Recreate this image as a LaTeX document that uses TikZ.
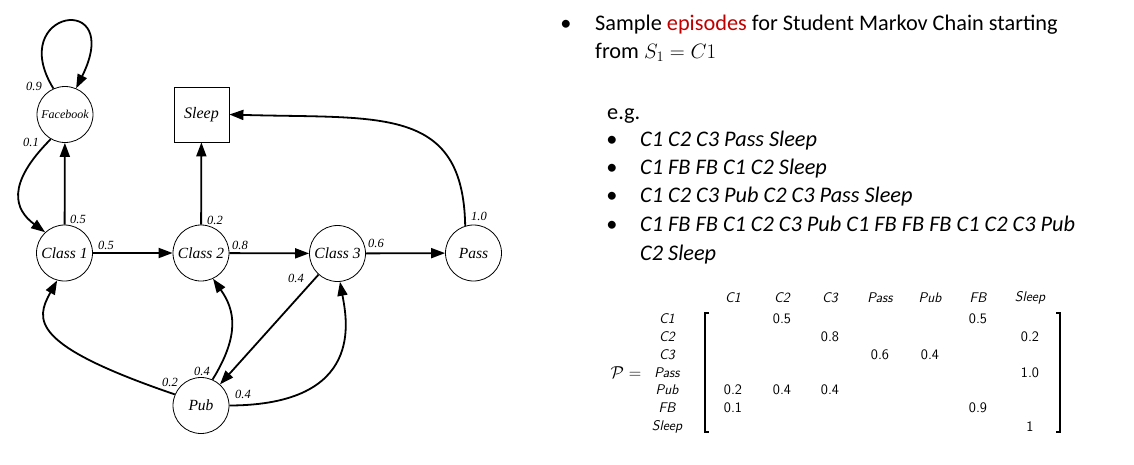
\documentclass[tikz,border=0pt]{standalone}
\usepackage{fontspec}
\setmainfont{Liberation Serif}
\newfontfamily\calibrifont{Carlito}
\usetikzlibrary{arrows.meta}
\definecolor{epired}{RGB}{192,0,0}
\begin{document}
\begin{tikzpicture}[x=1pt,y=-1pt,
  state/.style={circle, draw, line width=0.8pt, minimum size=56pt, inner sep=0pt, font=\fontsize{15.5}{16}\selectfont\itshape},
  sqstate/.style={rectangle, draw, line width=0.8pt, minimum size=55pt, inner sep=0pt, font=\fontsize{16}{17}\selectfont\itshape},
  arr/.style={line width=1.8pt, -{Triangle[length=14pt,width=10pt]}},
  lbl/.style={font=\fontsize{12.5}{13}\selectfont\itshape, inner sep=0pt},
  body/.style={font=\calibrifont\fontsize{22.3}{26}\selectfont, anchor=base west, inner sep=0pt},
  epi/.style={font=\calibrifont\fontsize{22.3}{26}\selectfont\itshape, anchor=base west, inner sep=0pt},
  dot/.style={font=\calibrifont\fontsize{22.3}{26}\selectfont, anchor=base, inner sep=0pt},
  hdr/.style={font=\sffamily\itshape\fontsize{14}{15}\selectfont, inner sep=0pt},
  val/.style={font=\sffamily\fontsize{14.5}{15}\selectfont, inner sep=0pt},
  brk/.style={line width=1.1pt}
]
\useasboundingbox (0,0) rectangle (1134,464);

% ---- states ----
\node[state, font=\fontsize{12}{13}\selectfont\itshape] (FB) at (65,114.5) {Facebook};
\node[sqstate] (Sleep) at (201.5,114.5) {Sleep};
\node[state] (C1) at (64.5,253) {Class 1};
\node[state] (C2) at (201,253) {Class 2};
\node[state] (C3) at (337.5,253.5) {Class 3};
\node[state] (Pass) at (473.5,253) {Pass};
\node[state] (Pub) at (201,405.5) {Pub};

% ---- transitions ----
\draw[arr] (C1) -- (C2);
\draw[arr] (C1) -- (FB);
\draw[arr] (FB.240) .. controls (5,185) and (15,210) .. (C1.133);
\draw[arr] (FB.114) .. controls (5,10) and (125,-10) .. (FB.67);
\draw[arr] (C2) -- (Sleep);
\draw[arr] (C2) -- (C3);
\draw[arr] (C3) -- (Pass);
\draw[arr] (Pass.107) .. controls (463,105) and (380,119) .. (Sleep.east);
\draw[arr] (C3) -- (Pub);
\draw[arr] (Pub.157) .. controls (30,345) and (35,320) .. (C1.255);
\draw[arr] (Pub.66) .. controls (240,335) and (235,310) .. (C2.295);
\draw[arr] (Pub.east) .. controls (365,405) and (347,320) .. (C3.275);

% ---- labels ----
\node[lbl] (l1) at (106,245) {0.5};
\node[lbl] (l2) at (78,219) {0.5};
\node[lbl] (l3) at (31,142) {0.1};
\node[lbl] (l4) at (34,86) {0.9};
\node[lbl] (l5) at (215,220) {0.2};
\node[lbl] (l6) at (240,245) {0.8};
\node[lbl] (l7) at (376,243) {0.6};
\node[lbl] (l8) at (479,216) {1.0};
\node[lbl] (l9) at (296,278) {0.4};
\node[lbl] (l10) at (170,382) {0.2};
\node[lbl] (l11) at (202,371) {0.4};
\node[lbl] (l12) at (243,394) {0.4};

% ---- right text ----
\node[dot] (b0) at (566,30) {•};
\node[body] (t1) at (595,30) {Sample \textcolor{epired}{episodes} for Student Markov Chain starting};
\node[body] (t2) at (595,58) {from $S_1 = C1$};
\node[body] (t3) at (607,119) {e.g.};
\node[dot] (b1) at (612,146) {•};
\node[epi] (e1) at (640,146) {C1 C2 C3 Pass Sleep};
\node[dot] (b2) at (612,174) {•};
\node[epi] (e2) at (640,174) {C1 FB FB C1 C2 Sleep};
\node[dot] (b3) at (612,202) {•};
\node[epi] (e3) at (640,202) {C1 C2 C3 Pub C2 C3 Pass Sleep};
\node[dot] (b4) at (612,231) {•};
\node[epi] (e4) at (640,231) {C1 FB FB C1 C2 C3 Pub C1 FB FB FB C1 C2 C3 Pub};
\node[epi] (e5) at (640,260) {C2 Sleep};

% ---- matrix ----
\foreach \n/\x/\t in {1/733/C1, 2/782/C2, 3/830/C3, 4/880/Pass, 5/930/Pub, 6/978/FB, 7/1030/Sleep}
  \node[hdr] (h\n) at (\x,298) {\t};
\foreach \n/\y/\t in {1/319/C1, 2/337/C2, 3/355/C3, 4/373/Pass, 5/390/Pub, 6/408/FB, 7/427/Sleep}
  \node[hdr] (r\n) at (667,\y) {\t};
\node[font=\fontsize{17}{18}\selectfont, inner sep=0pt] (Peq) at (626,373) {$\mathcal{P} =$};
\draw[brk] (709,313) -- (705,313) -- (705,432) -- (709,432);
\draw[brk] (1056,313) -- (1060,313) -- (1060,432) -- (1056,432);
\node[val] (v11) at (782,319) {0.5};
\node[val] (v12) at (978,319) {0.5};
\node[val] (v21) at (830,337) {0.8};
\node[val] (v22) at (1030,337) {0.2};
\node[val] (v31) at (880,355) {0.6};
\node[val] (v32) at (930,355) {0.4};
\node[val] (v41) at (1030,373) {1.0};
\node[val] (v51) at (733,390) {0.2};
\node[val] (v52) at (782,390) {0.4};
\node[val] (v53) at (830,390) {0.4};
\node[val] (v61) at (733,408) {0.1};
\node[val] (v62) at (978,408) {0.9};
\node[val] (v71) at (1030,427) {1};
\end{tikzpicture}
\end{document}
